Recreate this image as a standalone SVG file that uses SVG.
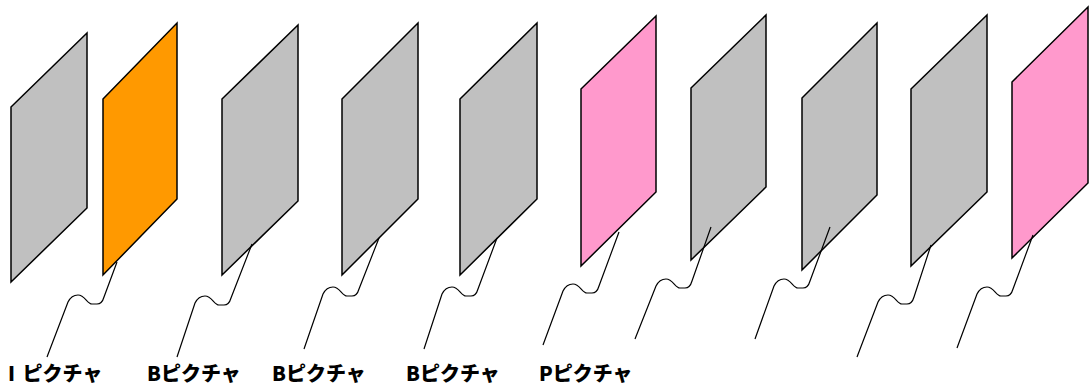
<svg xmlns="http://www.w3.org/2000/svg" width="1089" height="386" viewBox="0 0 1089 386">
<style>
.pn{stroke:#000;stroke-width:1.5;stroke-linejoin:miter}
.g{fill:#C0C0C0}
.o{fill:#FF9900}
.p{fill:#FF99CC}
.c{fill:none;stroke:#000;stroke-width:1.2}
.lb{font-family:"Noto Sans CJK JP","Noto Sans",sans-serif;font-weight:900;font-size:20px;fill:#000}
</style>
<rect width="1089" height="386" fill="#fff"/>
<g id="panel1"><polygon class="pn g" points="11,107 87,33 87,208 11,282"/></g>
<g id="panel2"><polygon class="pn o" points="103,99 177,23 177,199 103,275"/></g>
<g id="panel3"><polygon class="pn g" points="222,99 298,25 298,201 222,275"/></g>
<g id="panel4"><polygon class="pn g" points="342,99 418,23 418,199 342,275"/></g>
<g id="panel5"><polygon class="pn g" points="460,99 537,23 537,199 460,275"/></g>
<g id="panel6"><polygon class="pn p" points="581,89 656,16 656,192 581,266"/></g>
<g id="panel7"><polygon class="pn g" points="691,88 766,15 766,187 691,260"/></g>
<g id="panel8"><polygon class="pn g" points="802,98 877,23 877,195 802,270"/></g>
<g id="panel9"><polygon class="pn g" points="911,89 987,15 987,192 911,266"/></g>
<g id="panel10"><polygon class="pn p" points="1012,82 1088,7 1088,183 1012,258"/></g>
<g id="connectors">
<path class="c" d="M117,262 L104,297 Q102,304 97,304 L92,304 C87,304 85,295 78,295 C73,295 70,298 68,302 L47,357"/>
<path class="c" d="M252,244 L231,298 Q229,305 224,305 L219,305 C214,305 212,296 205,296 C200,296 197,299 195,303 L177,357"/>
<path class="c" d="M379,238 L359,289 Q357,296 352,296 L347,296 C342,296 340,287 333,287 C328,287 325,290 323,294 L304,349"/>
<path class="c" d="M497,238 L478,289 Q476,296 471,296 L466,296 C461,296 459,287 452,287 C447,287 444,290 442,294 L424,349"/>
<path class="c" d="M619,232 L599,286 Q597,293 592,293 L587,293 C582,293 580,284 573,284 C568,284 565,287 563,291 L543,345"/>
<path class="c" d="M711,227 L692,281 Q690,288 685,288 L680,288 C675,288 673,279 666,279 C661,279 658,282 656,286 L635,339"/>
<path class="c" d="M830,227 L810,281 Q808,288 803,288 L798,288 C793,288 791,279 784,279 C779,279 776,282 774,286 L755,339"/>
<path class="c" d="M931,245 L914,297 Q912,304 907,304 L902,304 C897,304 895,295 888,295 C883,295 880,298 878,302 L857,357"/>
<path class="c" d="M1033,235 L1013,289 Q1011,296 1006,296 L1001,296 C996,296 994,287 987,287 C982,287 979,290 977,294 L957,348"/>
</g>
<g id="labels">
<text class="lb" x="8" y="381" xml:space="preserve">I<tspan dx="3"> ピクチャ</tspan></text>
<text class="lb" x="147" y="381">Bピクチャ</text>
<text class="lb" x="272" y="381">Bピクチャ</text>
<text class="lb" x="406" y="381">Bピクチャ</text>
<text class="lb" x="539" y="381">Pピクチャ</text>
</g>
</svg>
